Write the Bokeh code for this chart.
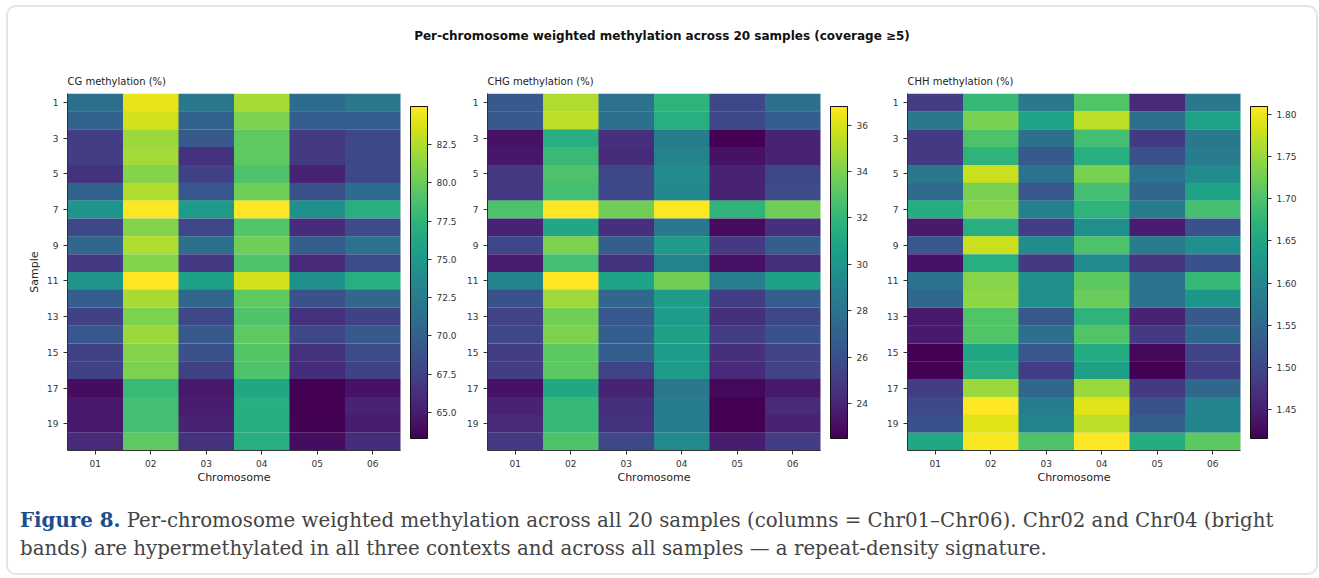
from bokeh.plotting import figure
from bokeh.models import (ColumnDataSource, LinearColorMapper, ColorBar, FixedTicker,
                          NumeralTickFormatter, Range1d, FactorRange, Div)
from bokeh.layouts import row, column
from bokeh.palettes import Viridis256
from bokeh.embed import file_html
from bokeh.resources import INLINE

chromosomes = ["01", "02", "03", "04", "05", "06"]
samples = list(range(1, 21))

cg = [
    [71.3, 84.3, 72.0, 82.2, 71.0, 72.0],
    [70.2, 83.5, 70.2, 80.7, 69.8, 69.8],
    [67.2, 81.7, 69.4, 79.6, 67.0, 68.0],
    [67.2, 82.0, 66.5, 79.6, 67.0, 68.0],
    [66.5, 81.0, 67.6, 79.0, 65.5, 68.0],
    [70.2, 82.4, 69.2, 80.2, 68.7, 70.9],
    [74.6, 85.0, 75.2, 85.0, 74.2, 77.0],
    [68.0, 81.0, 68.0, 79.2, 66.1, 68.3],
    [70.5, 82.4, 71.3, 80.2, 69.8, 71.5],
    [67.0, 81.0, 67.0, 79.0, 65.9, 68.3],
    [74.6, 85.0, 75.7, 83.5, 74.2, 77.0],
    [69.8, 82.2, 70.5, 79.6, 68.7, 70.5],
    [67.6, 80.7, 68.0, 79.0, 66.5, 67.6],
    [69.2, 81.7, 69.4, 79.6, 68.0, 69.4],
    [67.6, 81.0, 68.7, 79.2, 66.5, 68.3],
    [67.6, 80.7, 67.6, 79.0, 66.1, 67.6],
    [64.0, 78.0, 64.8, 76.3, 63.3, 64.4],
    [64.8, 78.5, 65.0, 77.0, 63.3, 65.5],
    [64.8, 78.5, 65.5, 76.8, 63.4, 65.0],
    [65.9, 79.6, 66.5, 77.0, 64.0, 66.1],
]

chg = [
    [26.5, 35.1, 27.9, 31.8, 25.6, 27.8],
    [26.5, 35.4, 27.8, 31.5, 25.6, 26.8],
    [23.2, 31.5, 24.4, 28.5, 22.5, 23.9],
    [23.4, 32.2, 24.2, 28.9, 23.2, 23.9],
    [24.9, 32.8, 25.6, 29.4, 23.9, 25.6],
    [24.9, 32.5, 25.6, 29.2, 23.9, 25.8],
    [32.8, 36.8, 33.7, 36.8, 31.8, 33.7],
    [23.9, 31.1, 24.4, 28.2, 22.9, 24.4],
    [25.6, 34.0, 26.8, 30.4, 24.9, 26.8],
    [23.6, 32.5, 24.6, 28.9, 23.2, 24.4],
    [28.9, 36.8, 30.8, 33.7, 28.6, 30.6],
    [26.1, 34.7, 27.2, 30.4, 25.1, 26.8],
    [25.4, 33.7, 26.4, 30.4, 24.4, 25.6],
    [25.6, 34.0, 26.8, 30.6, 25.1, 26.1],
    [25.1, 33.2, 26.8, 30.4, 24.4, 25.4],
    [25.1, 33.2, 25.4, 30.4, 24.2, 25.4],
    [23.2, 31.1, 23.9, 28.2, 22.8, 23.5],
    [23.9, 32.1, 24.4, 28.5, 22.5, 24.2],
    [24.2, 32.1, 24.6, 28.5, 22.5, 23.9],
    [24.9, 32.8, 25.6, 29.4, 23.6, 25.1],
]

chh = [
    [1.486, 1.680, 1.573, 1.703, 1.462, 1.573],
    [1.573, 1.731, 1.644, 1.770, 1.561, 1.644],
    [1.482, 1.699, 1.561, 1.692, 1.482, 1.573],
    [1.482, 1.672, 1.526, 1.664, 1.514, 1.581],
    [1.573, 1.778, 1.565, 1.731, 1.565, 1.605],
    [1.553, 1.731, 1.522, 1.692, 1.545, 1.644],
    [1.660, 1.739, 1.585, 1.672, 1.581, 1.692],
    [1.443, 1.664, 1.486, 1.613, 1.447, 1.514],
    [1.522, 1.778, 1.605, 1.699, 1.581, 1.613],
    [1.435, 1.664, 1.482, 1.605, 1.474, 1.514],
    [1.565, 1.739, 1.613, 1.711, 1.565, 1.680],
    [1.545, 1.743, 1.613, 1.719, 1.565, 1.624],
    [1.443, 1.703, 1.522, 1.672, 1.455, 1.526],
    [1.443, 1.703, 1.561, 1.703, 1.482, 1.545],
    [1.415, 1.652, 1.522, 1.660, 1.423, 1.494],
    [1.415, 1.664, 1.486, 1.640, 1.415, 1.486],
    [1.486, 1.751, 1.545, 1.751, 1.482, 1.545],
    [1.502, 1.810, 1.581, 1.790, 1.514, 1.593],
    [1.514, 1.790, 1.593, 1.770, 1.534, 1.593],
    [1.652, 1.806, 1.699, 1.810, 1.660, 1.711],
]

cg_ticks = [65.0, 67.5, 70.0, 72.5, 75.0, 77.5, 80.0, 82.5]
chg_ticks = [24, 26, 28, 30, 32, 34, 36]
chh_ticks = [1.45, 1.50, 1.55, 1.60, 1.65, 1.70, 1.75, 1.80]

FONT = "DejaVu Sans"
DARK = "#333333"


def panel(title, values, ticks, fmt, left, ylabel):
    xs, ys, vs = [], [], []
    for s, rowv in zip(samples, values):
        for c, v in zip(chromosomes, rowv):
            xs.append(c)
            ys.append(s)
            vs.append(v)
    src = ColumnDataSource(dict(chrom=xs, sample=ys, value=vs))
    mapper = LinearColorMapper(palette=Viridis256, low=min(vs), high=max(vs))
    p = figure(frame_width=333, frame_height=357,
               x_range=FactorRange(*chromosomes),
               y_range=Range1d(samples[-1] + 0.5, samples[0] - 0.5),
               output_backend="svg", toolbar_location=None,
               min_border_left=left, min_border_right=60,
               min_border_top=28, min_border_bottom=40,
               title=title)
    p.rect(x="chrom", y="sample", width=1, height=1, source=src,
           fill_color={"field": "value", "transform": mapper},
           line_color=None, dilate=True)
    p.outline_line_color = None
    p.grid.visible = False
    p.title.text_font = FONT
    p.title.text_font_size = "10px"
    p.title.text_font_style = "normal"
    p.title.text_color = "#222222"
    p.title.align = "left"
    p.title.standoff = 13
    p.yaxis.ticker = FixedTicker(ticks=samples[::2])
    for ax in (p.xaxis[0], p.yaxis[0]):
        ax.axis_line_color = DARK
        ax.major_tick_line_color = DARK
        ax.major_tick_in = 0
        ax.major_tick_out = 4
        ax.minor_tick_line_color = None
        ax.major_label_text_font = FONT
        ax.major_label_text_font_size = "9px"
        ax.major_label_text_color = DARK
        ax.axis_label_text_font = FONT
        ax.axis_label_text_font_size = "11px"
        ax.axis_label_text_font_style = "normal"
        ax.axis_label_text_color = "#222222"
    p.xaxis.axis_label = "Chromosome"
    p.xaxis.axis_label_standoff = 1
    if ylabel:
        p.yaxis.axis_label = ylabel
        p.yaxis.axis_label_standoff = 3
    cb = ColorBar(color_mapper=mapper, ticker=FixedTicker(ticks=ticks),
                  formatter=NumeralTickFormatter(format=fmt),
                  width=17, height=332, padding=0, margin=0,
                  location=(10, 12),
                  bar_line_color="#111111", bar_line_width=1,
                  major_tick_line_color=DARK, major_tick_in=0, major_tick_out=4,
                  minor_tick_line_color=None,
                  major_label_text_font=FONT, major_label_text_font_size="9px",
                  major_label_text_color=DARK, label_standoff=5,
                  background_fill_alpha=0, border_line_color=None)
    p.add_layout(cb, "right")
    return p


p1 = panel("CG methylation (%)", cg, cg_ticks, "0.0", 49, "Sample")
p2 = panel("CHG methylation (%)", chg, chg_ticks, "0", 27, None)
p3 = panel("CHH methylation (%)", chh, chh_ticks, "0.00", 27, None)

title_div = Div(
    text="Per-chromosome weighted methylation across 20 samples (coverage ≥5)",
    width=1308, height=20, margin=(21, 0, 17, 0),
    styles={"text-align": "center", "font-family": FONT, "font-weight": "bold",
            "font-size": "12px", "color": "#111111"})

caption_div = Div(
    text=('<span style="color:#1d4e89;font-weight:bold">Figure 8.</span> '
          '<span>Per-chromosome weighted methylation across all 20 samples (columns = Chr01–Chr06). '
          'Chr02 and Chr04 (bright</span><br>'
          '<span>bands) are hypermethylated in all three contexts and across '
          'all samples — a repeat-density signature.</span>'),
    width=1285, height=67, margin=(16, 0, 0, 12),
    styles={"font-family": "DejaVu Serif", "font-size": "19.8px", "line-height": "28px",
            "color": "#444444", "white-space": "nowrap"})

layout = column(title_div, row(p1, p2, p3, margin=(0, 0, 0, 10)), caption_div,
                margin=(5, 0, 0, 6),
                styles={"border": "2px solid #e4e4e4", "border-radius": "10px",
                        "background": "#ffffff"})

open("out.html", "w").write(file_html(layout, INLINE))
